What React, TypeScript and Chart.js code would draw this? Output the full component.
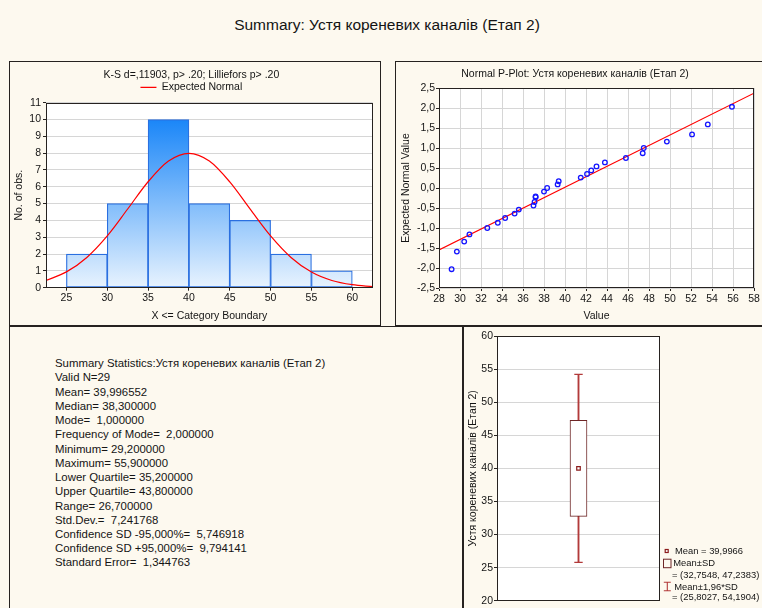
import React, { useEffect, useRef } from "react";
import { Chart, registerables } from "chart.js";

Chart.register(...registerables);

const FONT = "'Liberation Sans', Arial, Helvetica, sans-serif";
const BG = "#fdf9ef";
const FRAME = "#262220";
const GRID = "#d6d6d6";
const TEXT = "#141414";

Chart.defaults.font.family = FONT;
Chart.defaults.color = TEXT;

const mainTitle = "Summary: Устя кореневих каналів (Етап 2)";
const varName = "Устя кореневих каналів (Етап 2)";

// ---------- Histogram ----------
const histTitle = "K-S d=,11903, p> .20; Lilliefors p> .20";
const histXTitle = "X <= Category Boundary";
const histYTitle = "No. of obs.";
const binCenters = [27.5, 32.5, 37.5, 42.5, 47.5, 52.5, 57.5];
const binCounts = [2, 5, 10, 5, 4, 2, 1];
const histXTicks = [25, 30, 35, 40, 45, 50, 55, 60];
const normalX = [22.5, 25, 27.5, 30, 32.5, 35, 37.5, 40, 42.5, 45, 47.5, 50, 52.5, 55, 57.5, 60, 62.5];
const normalY = [0.43, 0.94, 1.8, 3.08, 4.68, 6.3, 7.53, 7.99, 7.53, 6.29, 4.67, 3.08, 1.8, 0.93, 0.43, 0.18, 0.06];

// ---------- Normal P-Plot ----------
const ppTitle = "Normal P-Plot: " + varName;
const observed = [29.2, 29.7, 30.4, 30.9, 32.6, 33.6, 34.3, 35.2, 35.6, 37.0, 37.1, 37.2, 37.2, 38.0, 38.3, 39.3, 39.4, 41.5, 42.1, 42.5, 43.0, 43.8, 45.8, 47.4, 47.5, 49.7, 52.1, 53.6, 55.9];
const expected = [-2.03, -1.59, -1.34, -1.16, -1.0, -0.87, -0.75, -0.64, -0.54, -0.44, -0.35, -0.23, -0.21, -0.09, 0.0, 0.09, 0.17, 0.26, 0.35, 0.44, 0.54, 0.64, 0.75, 0.87, 1.0, 1.16, 1.34, 1.59, 2.03];
const fitX = [28, 58];
const fitY = [-1.55, 2.37];

// ---------- Box plot ----------
const meanValue = 39.9966;
const sdRange = [32.7548, 47.2383];
const ci196Range = [25.8027, 54.1904];

// ---------- Summary text ----------
const statsLines = [
  "Summary Statistics:Устя кореневих каналів (Етап 2)",
  "Valid N=29",
  "Mean= 39,996552",
  "Median= 38,300000",
  "Mode=  1,000000",
  "Frequency of Mode=  2,000000",
  "Minimum= 29,200000",
  "Maximum= 55,900000",
  "Lower Quartile= 35,200000",
  "Upper Quartile= 43,800000",
  "Range= 26,700000",
  "Std.Dev.=  7,241768",
  "Confidence SD -95,000%=  5,746918",
  "Confidence SD +95,000%=  9,794141",
  "Standard Error=  1,344763",
];

const f105 = { family: FONT, size: 10.5, weight: "normal" as const };
const comma = (v: number, d: number) => v.toFixed(d).replace(".", ",");

const plotFrame = {
  id: "plotFrame",
  beforeDraw(chart: any) {
    const { ctx, chartArea: a } = chart;
    ctx.save();
    ctx.fillStyle = "#ffffff";
    ctx.fillRect(a.left, a.top, a.right - a.left, a.bottom - a.top);
    ctx.restore();
  },
  afterDatasetsDraw(chart: any) {
    const { ctx, chartArea: a } = chart;
    ctx.save();
    ctx.strokeStyle = FRAME;
    ctx.lineWidth = 1;
    const l = Math.round(a.left) + 0.5;
    const t = Math.round(a.top) + 0.5;
    const r = Math.round(a.right) - 0.5;
    const b = Math.round(a.bottom) - 0.5;
    ctx.strokeRect(l, t, r - l, b - t);
    ctx.restore();
  },
};

function barGradient(c: any) {
  const ch = c.chart;
  if (!ch.chartArea) return "#7ab4f0";
  const y = ch.scales.y;
  const g = ch.ctx.createLinearGradient(0, y.getPixelForValue(10), 0, y.getPixelForValue(0));
  g.addColorStop(0, "#1a86f8");
  g.addColorStop(1, "#e8f3fe");
  return g;
}

function histConfig(): any {
  return {
    type: "bar",
    data: {
      datasets: [
        {
          type: "line",
          label: "Expected Normal",
          data: normalX.map((x, i) => ({ x, y: normalY[i] })),
          borderColor: "#ff0000",
          backgroundColor: "#ff0000",
          borderWidth: 1.2,
          pointRadius: 0,
          cubicInterpolationMode: "monotone",
          fill: false,
        },
        {
          type: "bar",
          label: "No. of obs.",
          data: binCenters.map((x, i) => ({ x, y: binCounts[i] })),
          backgroundColor: barGradient,
          borderColor: "#2a6fe0",
          borderWidth: 1.2,
          borderSkipped: false,
          barPercentage: 1,
          categoryPercentage: 1,
        },
      ],
    },
    options: {
      animation: false,
      responsive: false,
      maintainAspectRatio: false,
      layout: { padding: { left: 0, right: 7.3, top: 0, bottom: 0 } },
      plugins: {
        title: { display: true, text: histTitle, color: TEXT, font: f105, padding: { top: 6.7, bottom: 0.9 } },
        legend: {
          display: true,
          labels: {
            filter: (it: any) => it.datasetIndex === 0,
            usePointStyle: true,
            pointStyle: "line",
            pointStyleWidth: 16,
            color: TEXT,
            font: f105,
            padding: 0,
          },
        },
        tooltip: { enabled: false },
      },
      scales: {
        x: {
          type: "linear",
          min: 22.5,
          max: 62.5,
          offset: false,
          afterBuildTicks: (s: any) => {
            s.ticks = histXTicks.map((v) => ({ value: v }));
          },
          afterFit: (s: any) => {
            s.height = 37.3;
          },
          grid: { offset: false, drawOnChartArea: false, drawTicks: true, tickLength: 3, tickColor: FRAME },
          border: { display: false },
          ticks: { color: TEXT, font: f105, padding: 1, maxRotation: 0, autoSkip: false },
          title: { display: true, text: histXTitle, color: TEXT, font: f105, padding: { top: 0, bottom: 2.7 } },
        },
        y: {
          min: 0,
          max: 11,
          ticks: { stepSize: 1, padding: 2, color: TEXT, font: f105 },
          grid: { color: GRID, tickLength: 3, tickColor: FRAME },
          border: { display: false },
          afterFit: (s: any) => {
            s.width = 36;
          },
          title: { display: true, text: histYTitle, color: TEXT, font: f105, padding: { top: 3, bottom: 0 } },
        },
      },
    },
    plugins: [plotFrame],
  };
}

function ppConfig(): any {
  return {
    type: "scatter",
    data: {
      datasets: [
        {
          label: "Observed",
          data: observed.map((x, i) => ({ x, y: expected[i] })),
          pointRadius: 2.3,
          pointBorderWidth: 1.3,
          borderColor: "#1414ff",
          pointBorderColor: "#1414ff",
          backgroundColor: "rgba(0,0,0,0)",
          pointBackgroundColor: "rgba(0,0,0,0)",
        },
        {
          type: "line",
          label: "Fit",
          data: fitX.map((x, i) => ({ x, y: fitY[i] })),
          borderColor: "#ff0000",
          borderWidth: 1.2,
          pointRadius: 0,
          showLine: true,
          fill: false,
        },
      ],
    },
    options: {
      animation: false,
      responsive: false,
      maintainAspectRatio: false,
      layout: { padding: { left: 0, right: 8, top: 0, bottom: 0 } },
      plugins: {
        title: { display: true, text: ppTitle, color: TEXT, font: f105, padding: { top: 5.7, bottom: 7.7 } },
        legend: { display: false },
        tooltip: { enabled: false },
      },
      scales: {
        x: {
          type: "linear",
          min: 28,
          max: 58,
          ticks: { stepSize: 2, padding: 1.7, color: TEXT, font: f105, maxRotation: 0, autoSkip: false },
          grid: { color: GRID, tickLength: 3, tickColor: FRAME },
          border: { display: false },
          afterFit: (s: any) => {
            s.height = 37;
          },
          title: { display: true, text: "Value", color: TEXT, font: f105, padding: { top: 0, bottom: 2.7 } },
        },
        y: {
          min: -2.5,
          max: 2.5,
          ticks: {
            stepSize: 0.5,
            padding: 1,
            color: TEXT,
            font: f105,
            callback: (v: any) => (Math.abs(v) < 1e-9 ? "0,0" : comma(Number(v), 1)),
          },
          grid: { color: GRID, tickLength: 3, tickColor: FRAME },
          border: { display: false },
          afterFit: (s: any) => {
            s.width = 43;
          },
          title: { display: true, text: "Expected Normal Value", color: TEXT, font: f105, padding: { top: 3.7, bottom: 0 } },
        },
      },
    },
    plugins: [plotFrame],
  };
}

const MEAN_COLOR = "#8b1c1c";
const BOX_COLOR = "#6e2626";
const WHISKER_COLOR = "#b23a3a";

const boxLegend = {
  id: "boxLegend",
  afterDraw(chart: any) {
    const { ctx, chartArea: a } = chart;
    const R = a.right;
    const B = a.bottom;
    ctx.save();
    ctx.font = `9.4px ${FONT}`;
    ctx.textBaseline = "middle";
    ctx.textAlign = "left";
    ctx.lineWidth = 1.2;
    ctx.strokeStyle = MEAN_COLOR;
    ctx.fillStyle = "#ffffff";
    ctx.fillRect(R + 5.2, B - 51.2, 3, 3);
    ctx.strokeRect(R + 5.2, B - 51.2, 3, 3);
    ctx.fillStyle = TEXT;
    ctx.fillText(`Mean = ${comma(meanValue, 4)}`, R + 15, B - 49.7);
    ctx.lineWidth = 1;
    ctx.strokeStyle = BOX_COLOR;
    ctx.strokeRect(R + 3.5, B - 41.5, 7.5, 8.5);
    ctx.fillStyle = TEXT;
    ctx.fillText("Mean±SD", R + 13.3, B - 37.7);
    ctx.fillText(`= (${comma(sdRange[0], 4)}, ${comma(sdRange[1], 4)})`, R + 12, B - 25.7);
    ctx.strokeStyle = WHISKER_COLOR;
    ctx.lineWidth = 1.1;
    const cx = R + 7.3;
    ctx.beginPath();
    ctx.moveTo(cx, B - 18.4);
    ctx.lineTo(cx, B - 10);
    ctx.moveTo(cx - 3.5, B - 18.4);
    ctx.lineTo(cx + 3.5, B - 18.4);
    ctx.moveTo(cx - 3.5, B - 10);
    ctx.lineTo(cx + 3.5, B - 10);
    ctx.stroke();
    ctx.fillStyle = TEXT;
    ctx.fillText("Mean±1,96*SD", R + 14.3, B - 13.7);
    ctx.fillText(`= (${comma(ci196Range[0], 4)}, ${comma(ci196Range[1], 4)})`, R + 12, B - 3.7);
    ctx.restore();
  },
};

function boxConfig(): any {
  return {
    type: "bar",
    data: {
      labels: [""],
      datasets: [
        {
          type: "line",
          label: "Mean",
          data: [meanValue],
          showLine: false,
          pointStyle: "rect",
          pointRadius: 2.5,
          pointBorderWidth: 1.2,
          pointBorderColor: MEAN_COLOR,
          pointBackgroundColor: "#ffffff",
        },
        {
          type: "line",
          label: "Lower cap",
          data: [ci196Range[0]],
          showLine: false,
          pointStyle: "line",
          pointRadius: 4.2,
          pointBorderWidth: 1.2,
          pointBorderColor: WHISKER_COLOR,
          borderColor: WHISKER_COLOR,
        },
        {
          type: "line",
          label: "Upper cap",
          data: [ci196Range[1]],
          showLine: false,
          pointStyle: "line",
          pointRadius: 4.2,
          pointBorderWidth: 1.2,
          pointBorderColor: WHISKER_COLOR,
          borderColor: WHISKER_COLOR,
        },
        {
          type: "bar",
          label: "Mean±SD",
          data: [sdRange],
          backgroundColor: "#ffffff",
          borderColor: BOX_COLOR,
          borderWidth: 1,
          borderSkipped: false,
          barThickness: 17,
          grouped: false,
        },
        {
          type: "bar",
          label: "Mean±1,96*SD",
          data: [ci196Range],
          backgroundColor: WHISKER_COLOR,
          borderWidth: 0,
          barThickness: 1.2,
          grouped: false,
        },
      ],
    },
    options: {
      animation: false,
      responsive: false,
      maintainAspectRatio: false,
      layout: { padding: { left: 0, right: 102, top: 9, bottom: 0 } },
      plugins: {
        title: { display: false },
        legend: { display: false },
        tooltip: { enabled: false },
      },
      scales: {
        x: {
          type: "category",
          offset: true,
          ticks: { display: false },
          grid: { display: false },
          border: { display: false },
          afterFit: (s: any) => {
            s.height = 6.3;
          },
        },
        y: {
          min: 20,
          max: 60,
          ticks: { stepSize: 5, padding: 1, color: TEXT, font: f105 },
          grid: { color: GRID, tickLength: 3, tickColor: FRAME },
          border: { display: false },
          afterFit: (s: any) => {
            s.width = 33;
          },
          title: { display: true, text: varName, color: TEXT, font: f105, padding: { top: 2.7, bottom: 0 } },
        },
      },
    },
    plugins: [plotFrame, boxLegend],
  };
}

function ChartBox(props: { left: number; top: number; width: number; height: number; make: () => any }) {
  const { left, top, width, height, make } = props;
  const ref = useRef<HTMLCanvasElement>(null);
  useEffect(() => {
    const chart = new Chart(ref.current as HTMLCanvasElement, make());
    return () => chart.destroy();
  }, []);
  return (
    <canvas
      ref={ref}
      width={width}
      height={height}
      style={{ position: "absolute", left, top, width, height, display: "block" }}
    />
  );
}

function Panel(props: { left: number; top: number; width: number; height: number }) {
  const { left, top, width, height } = props;
  return (
    <div
      style={{
        position: "absolute",
        left,
        top,
        width,
        height,
        boxSizing: "border-box",
        border: `1px solid ${FRAME}`,
      }}
    />
  );
}

export default function App() {
  return (
    <div
      style={{
        position: "fixed",
        left: 0,
        top: 0,
        width: 762,
        height: 608,
        background: BG,
        overflow: "hidden",
        fontFamily: FONT,
        color: TEXT,
      }}
    >
      <div
        style={{
          position: "absolute",
          left: 0,
          top: 16,
          width: 774,
          textAlign: "center",
          fontSize: 15.5,
          lineHeight: "18px",
          whiteSpace: "nowrap",
        }}
      >
        {mainTitle}
      </div>
      <Panel left={9} top={61} width={372} height={265} />
      <Panel left={395} top={61} width={400} height={265} />
      <Panel left={9} top={326} width={454} height={300} />
      <Panel left={463} top={326} width={320} height={300} />
      <ChartBox left={10} top={62} width={370} height={263} make={histConfig} />
      <ChartBox left={396} top={62} width={366} height={263} make={ppConfig} />
      <div
        style={{
          position: "absolute",
          left: 55,
          top: 356.2,
          fontSize: 11.4,
          lineHeight: "14.24px",
          whiteSpace: "pre",
        }}
      >
        {statsLines.map((s, i) => (
          <div key={i}>{s}</div>
        ))}
      </div>
      <ChartBox left={464} top={327} width={298} height={281} make={boxConfig} />
    </div>
  );
}
